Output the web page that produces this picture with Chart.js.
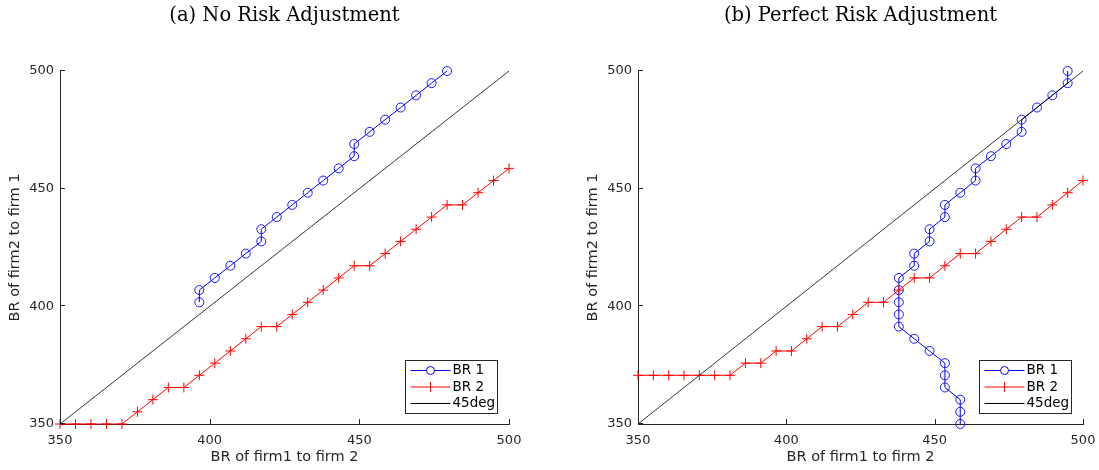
<!DOCTYPE html>
<html>
<head>
<meta charset="utf-8">
<script src="https://cdn.jsdelivr.net/npm/chart.js@4.4.1/dist/chart.umd.min.js"></script>
<style>
  html, body { margin: 0; padding: 0; background: #fff; }
  body { width: 1099px; height: 470px; position: relative; overflow: hidden; }
  .panel { position: absolute; top: 0; height: 470px; }
</style>
</head>
<body>
<div class="panel" style="left:0;width:549px"><canvas id="chartA"></canvas></div>
<div class="panel" style="left:578px;width:521px"><canvas id="chartB"></canvas></div>
<script>
// axis ticks (both panels share the same range)
const axisTicks = [350, 400, 450, 500];
const diagX = [350, 500];
const diagY = [350, 500];

// (a) No Risk Adjustment
const noAdjBR1x = [396.55, 396.55, 401.72, 406.90, 412.07, 417.24, 417.24, 422.41, 427.59, 432.76,
                   437.93, 443.10, 448.28, 448.28, 453.45, 458.62, 463.79, 468.97, 474.14, 479.31];
const noAdjBR1y = [401.72, 406.90, 412.07, 417.24, 422.41, 427.59, 432.76, 437.93, 443.10, 448.28,
                   453.45, 458.62, 463.79, 468.97, 474.14, 479.31, 484.48, 489.66, 494.83, 500];
const noAdjBR2x = [350, 355.17, 360.34, 365.52, 370.69, 375.86, 381.03, 386.21, 391.38, 396.55,
                   401.72, 406.90, 412.07, 417.24, 422.41, 427.59, 432.76, 437.93, 443.10, 448.28,
                   453.45, 458.62, 463.79, 468.97, 474.14, 479.31, 484.48, 489.66, 494.83, 500];
const noAdjBR2y = [350, 350, 350, 350, 350, 355.17, 360.34, 365.52, 365.52, 370.69,
                   375.86, 381.03, 386.21, 391.38, 391.38, 396.55, 401.72, 406.90, 412.07, 417.24,
                   417.24, 422.41, 427.59, 432.76, 437.93, 443.10, 443.10, 448.28, 453.45, 458.62];

// (b) Perfect Risk Adjustment
const perfBR1x = [458.62, 458.62, 458.62, 453.45, 453.45, 453.45, 448.28, 443.10, 437.93, 437.93,
                  437.93, 437.93, 437.93, 443.10, 443.10, 448.28, 448.28, 453.45, 453.45, 458.62,
                  463.79, 463.79, 468.97, 474.14, 479.31, 479.31, 484.48, 489.66, 494.83, 494.83];
const perfBR1y = [350, 355.17, 360.34, 365.52, 370.69, 375.86, 381.03, 386.21, 391.38, 396.55,
                  401.72, 406.90, 412.07, 417.24, 422.41, 427.59, 432.76, 437.93, 443.10, 448.28,
                  453.45, 458.62, 463.79, 468.97, 474.14, 479.31, 484.48, 489.66, 494.83, 500];
const perfBR2x = [350, 355.17, 360.34, 365.52, 370.69, 375.86, 381.03, 386.21, 391.38, 396.55,
                  401.72, 406.90, 412.07, 417.24, 422.41, 427.59, 432.76, 437.93, 443.10, 448.28,
                  453.45, 458.62, 463.79, 468.97, 474.14, 479.31, 484.48, 489.66, 494.83, 500];
const perfBR2y = [370.69, 370.69, 370.69, 370.69, 370.69, 370.69, 370.69, 375.86, 375.86, 381.03,
                  381.03, 386.21, 391.38, 391.38, 396.55, 401.72, 401.72, 406.90, 412.07, 412.07,
                  417.24, 422.41, 422.41, 427.59, 432.76, 437.93, 437.93, 443.10, 448.28, 453.45];

const seriesNames = ['BR 1', 'BR 2', '45deg'];

const axisColor = '#262626';
const blue = '#0000ff', red = '#ff0000';

function pts(xs, ys) {
  return xs.map((x, k) => ({ x: x, y: ys[k] }));
}

// inward ticks, serif title and a matlab-like legend box
const matlabLook = {
  id: 'matlabLook',
  afterDraw(chart, args, opts) {
    const ctx = chart.ctx, area = chart.chartArea;
    const sx = chart.scales.x, sy = chart.scales.y;
    ctx.save();
    ctx.strokeStyle = axisColor;
    ctx.lineWidth = 1;
    ctx.beginPath();
    axisTicks.forEach(v => {
      const px = Math.round(sx.getPixelForValue(v)) + 0.5;
      ctx.moveTo(px, area.bottom);
      ctx.lineTo(px, area.bottom - 5);
      const py = Math.round(sy.getPixelForValue(v)) - 0.5;
      ctx.moveTo(area.left, py);
      ctx.lineTo(area.left + 5, py);
    });
    ctx.stroke();

    // title
    ctx.fillStyle = '#000';
    ctx.font = '19.5px "DejaVu Serif"';
    ctx.textAlign = 'center';
    ctx.textBaseline = 'alphabetic';
    ctx.fillText(opts.title, (area.left + area.right) / 2, 21);

    // legend
    const w = 92, h = 53;
    const bx = Math.round(area.right - 12 - w) + 0.5;
    const by = Math.round(area.bottom - 11 - h) + 0.5;
    ctx.fillStyle = '#fff';
    ctx.fillRect(bx, by, w, h);
    ctx.strokeStyle = axisColor;
    ctx.lineWidth = 1;
    ctx.strokeRect(bx, by, w, h);
    const rows = [10, 26.5, 43];
    const colors = [blue, red, '#000'];
    ctx.font = '13.5px "DejaVu Sans"';
    ctx.textAlign = 'left';
    ctx.textBaseline = 'middle';
    seriesNames.forEach((name, k) => {
      const y = by + rows[k];
      ctx.strokeStyle = colors[k];
      ctx.lineWidth = 1;
      ctx.beginPath();
      ctx.moveTo(bx + 5, y);
      ctx.lineTo(bx + 45, y);
      ctx.stroke();
      if (k === 0) {
        ctx.beginPath();
        ctx.arc(bx + 25, y, 4, 0, Math.PI * 2);
        ctx.fillStyle = '#fff';
        ctx.fill();
        ctx.stroke();
      } else if (k === 1) {
        ctx.beginPath();
        ctx.moveTo(bx + 25, y - 5);
        ctx.lineTo(bx + 25, y + 5);
        ctx.stroke();
      }
      ctx.fillStyle = '#000';
      ctx.fillText(name, bx + 47, y);
    });
    ctx.restore();
  }
};

function makeChart(id, title, br1x, br1y, br2x, br2y, padRight) {
  return new Chart(document.getElementById(id), {
    type: 'scatter',
    data: {
      datasets: [
        {
          label: seriesNames[0],
          data: pts(br1x, br1y),
          showLine: true,
          borderColor: blue,
          borderWidth: 1,
          pointStyle: 'circle',
          pointRadius: 4.5,
          pointBorderWidth: 0.9,
          pointBorderColor: blue,
          pointBackgroundColor: 'rgba(0,0,0,0)',
          clip: false,
          order: 3
        },
        {
          label: seriesNames[1],
          data: pts(br2x, br2y),
          showLine: true,
          borderColor: red,
          borderWidth: 1,
          pointStyle: 'cross',
          pointRadius: 5,
          pointBorderWidth: 1,
          pointBorderColor: red,
          clip: false,
          order: 2
        },
        {
          label: seriesNames[2],
          data: pts(diagX, diagY),
          showLine: true,
          borderColor: '#000',
          borderWidth: 0.8,
          pointRadius: 0,
          clip: false,
          order: 1
        }
      ]
    },
    options: {
      responsive: true,
      maintainAspectRatio: false,
      animation: false,
      layout: { padding: { top: 71, left: 0, right: padRight, bottom: 0 } },
      plugins: {
        legend: { display: false },
        tooltip: { enabled: false },
        matlabLook: { title: title }
      },
      scales: {
        x: {
          type: 'linear',
          min: 350,
          max: 500,
          afterBuildTicks: s => { s.ticks = axisTicks.map(v => ({ value: v })); },
          afterFit: s => { s.height = 46; s.paddingLeft = 0; s.paddingRight = 0; },
          grid: { display: false, drawTicks: false },
          border: { display: true, color: axisColor, width: 1 },
          ticks: { color: axisColor, font: { family: 'DejaVu Sans', size: 13 }, padding: 9, maxRotation: 0 },
          title: {
            display: true,
            text: 'BR of firm1 to firm 2',
            color: axisColor,
            font: { family: 'DejaVu Sans', size: 14.5 },
            padding: { top: 0, bottom: 4 }
          }
        },
        y: {
          type: 'linear',
          min: 350,
          max: 500,
          afterBuildTicks: s => { s.ticks = axisTicks.map(v => ({ value: v })); },
          afterFit: s => { s.width = 60; s.paddingTop = 0; s.paddingBottom = 0; },
          grid: { display: false, drawTicks: false },
          border: { display: true, color: axisColor, width: 1 },
          ticks: { color: axisColor, font: { family: 'DejaVu Sans', size: 13 }, padding: 6 },
          title: {
            display: true,
            text: 'BR of firm2 to firm 1',
            color: axisColor,
            font: { family: 'DejaVu Sans', size: 14.5 },
            padding: { top: 7, bottom: 0 }
          }
        }
      }
    },
    plugins: [matlabLook]
  });
}

makeChart('chartA', '(a) No Risk Adjustment', noAdjBR1x, noAdjBR1y, noAdjBR2x, noAdjBR2y, 40);
makeChart('chartB', '(b) Perfect Risk Adjustment', perfBR1x, perfBR1y, perfBR2x, perfBR2y, 16);
</script>
</body>
</html>
